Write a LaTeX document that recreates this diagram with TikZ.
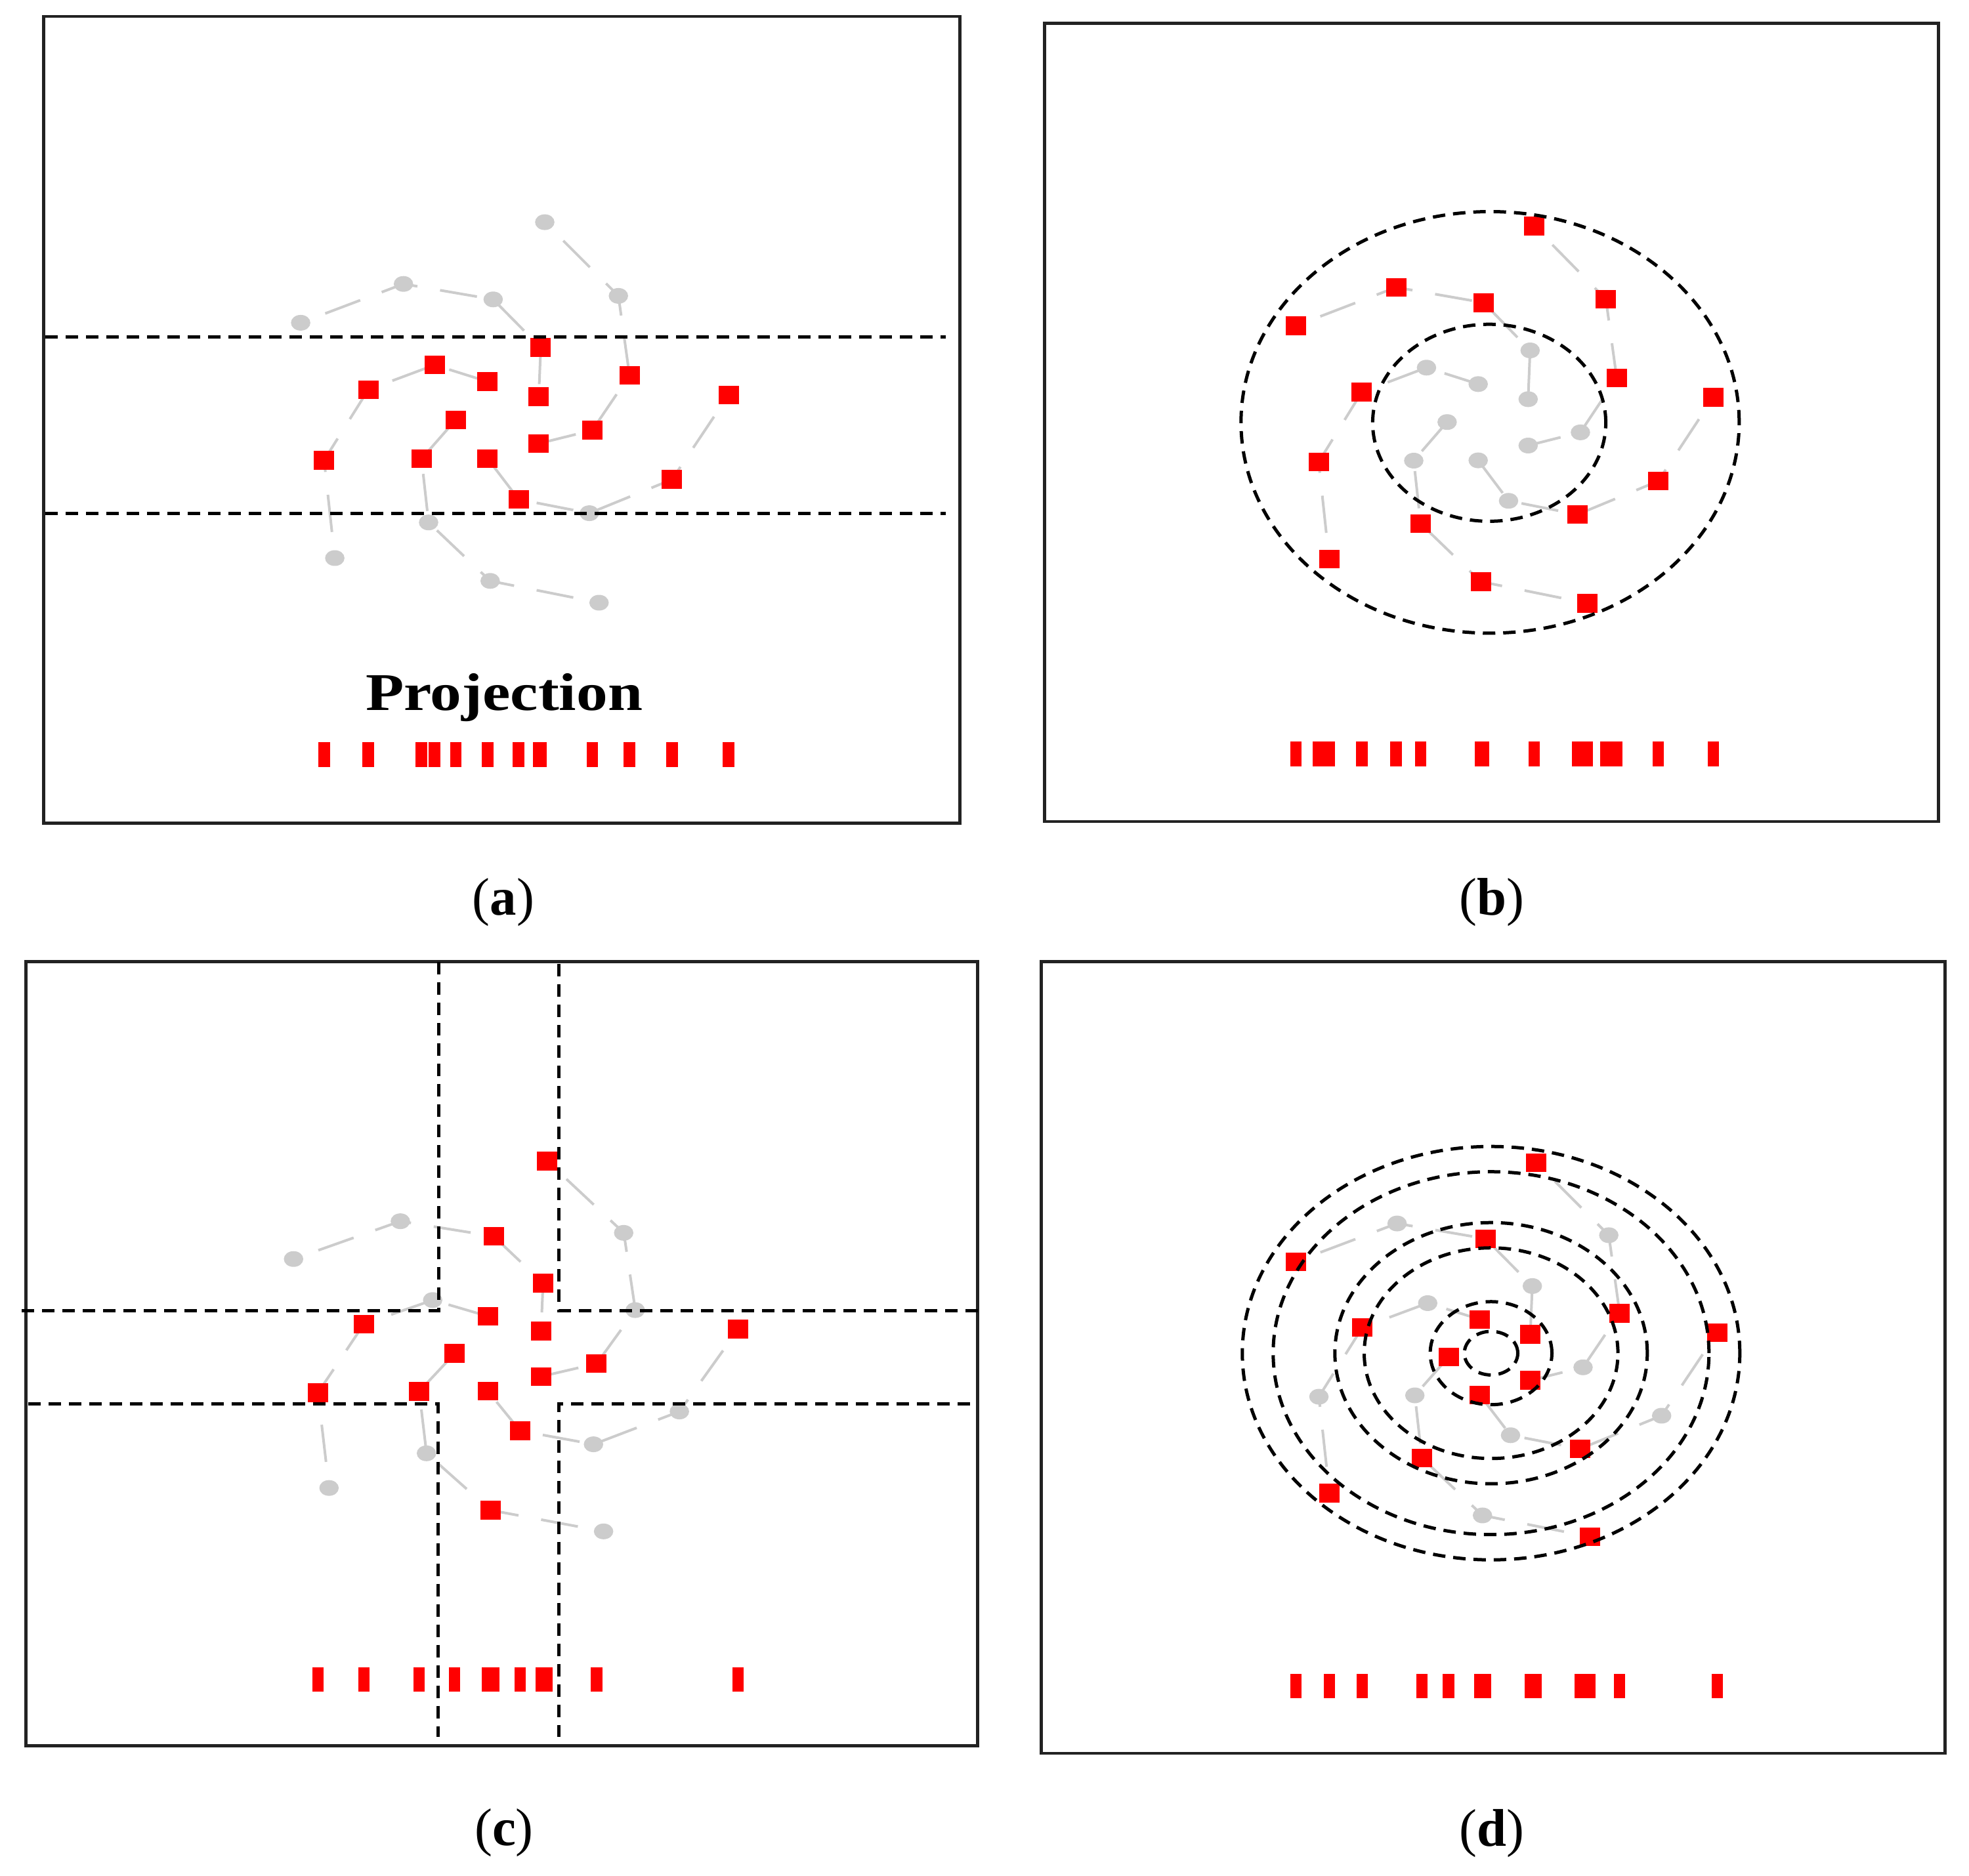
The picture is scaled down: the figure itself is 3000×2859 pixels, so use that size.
\documentclass[tikz,border=0pt]{standalone}
\usepackage{fontspec}
\setmainfont{Liberation Serif}
\usepackage{graphicx}
\usetikzlibrary{shapes.geometric}
\pgfdeclarelayer{bg}
\pgfsetlayers{bg,main}
\definecolor{gcol}{HTML}{CCCCCC}
\definecolor{fcol}{HTML}{222222}
\definecolor{rcol}{HTML}{FF0000}
\tikzset{
  gdot/.style={ellipse, fill=gcol, draw=none, inner sep=0pt, minimum width=2.96mm, minimum height=2.4mm},
  rsq/.style={rectangle, fill=rcol, draw=none, inner sep=0pt, minimum width=3.1mm, minimum height=2.85mm},
  mkgray/.style={p#1/.style=gdot},
  mkred/.style={p#1/.style=rsq},
  mkgray/.list={A1,A2,A3,A4,A5,A6,A7,A8,A9,A10,R1,R2,R3,R4,R5,R6,R7,R8,R9,R10,R11,R12,R13,R14,R15},
  bar/.style={rectangle, fill=rcol, draw=none, inner sep=0pt, minimum width=1.76mm, minimum height=3.8mm},
  arm/.style={draw=gcol, line width=0.4mm, dash pattern=on 5.7mm off 3.5mm, dash phase=5.2mm},
  bound/.style={draw=black, line width=0.5mm, dash pattern=on 1.9mm off 1.2mm},
  frame/.style={draw=fcol, line width=0.47mm},
  lab/.style={font=\fontsize{23}{27}\selectfont, inner sep=0pt},
}
\newcommand\placepts[1]{%
  \node[pA1] (#1A1) at (830.0,338.6) {};
  \node[pA2] (#1A2) at (614.7,432.7) {};
  \node[pA3] (#1A3) at (751.4,456.3) {};
  \node[pA4] (#1A4) at (458.1,491.9) {};
  \node[pA5] (#1A5) at (942.2,450.9) {};
  \node[pA6] (#1A6) at (653.0,796.2) {};
  \node[pA7] (#1A7) at (510.1,850.5) {};
  \node[pA8] (#1A8) at (746.8,885.3) {};
  \node[pA9] (#1A9) at (912.7,918.5) {};
  \node[pA10] (#1A10) at (897.9,782.1) {};
  \node[pR1] (#1R1) at (823.9,529.7) {};
  \node[pR2] (#1R2) at (662.1,556.2) {};
  \node[pR3] (#1R3) at (742.8,581.5) {};
  \node[pR4] (#1R4) at (561.1,593.9) {};
  \node[pR5] (#1R5) at (820.8,604.7) {};
  \node[pR6] (#1R6) at (959.1,571.9) {};
  \node[pR7] (#1R7) at (1110.1,601.8) {};
  \node[pR8] (#1R8) at (694.3,639.9) {};
  \node[pR9] (#1R9) at (902.4,655.7) {};
  \node[pR10] (#1R10) at (820.8,676.0) {};
  \node[pR11] (#1R11) at (493.8,701.3) {};
  \node[pR12] (#1R12) at (642.2,699.2) {};
  \node[pR13] (#1R13) at (742.8,698.8) {};
  \node[pR14] (#1R14) at (1023.9,730.7) {};
  \node[pR15] (#1R15) at (790.2,761.0) {};
  \begin{pgfonlayer}{bg}
    \draw[arm] (#1A4.center) -- (#1A2.center) -- (#1A3.center) -- (#1R1.center) -- (#1R5.center);
    \draw[arm] (#1A1.center) -- (#1A5.center) -- (#1R6.center) -- (#1R9.center) -- (#1R10.center);
    \draw[arm] (#1R7.center) -- (#1R14.center) -- (#1A10.center) -- (#1R15.center) -- (#1R13.center);
    \draw[arm] (#1A9.center) -- (#1A8.center) -- (#1A6.center) -- (#1R12.center) -- (#1R8.center);
    \draw[arm] (#1A7.center) -- (#1R11.center) -- (#1R4.center) -- (#1R2.center) -- (#1R3.center);
  \end{pgfonlayer}%
}
\newcommand\placebars[2]{%
  \foreach \p in {#2}{\node[bar] (#1bar\p) at (#1\p |- #1bary) {};}%
}
\begin{document}
\begin{tikzpicture}[x=0.1mm, y=-0.1mm]
\useasboundingbox (0,0) rectangle (3000,2859);
% frames
\draw[frame] (66.7,25) rectangle (1462.3,1254.7);
\draw[frame] (1591.3,35.6) rectangle (2953.7,1252);
\draw[frame] (39.5,1465.4) rectangle (1489.5,2660.2);
\draw[frame] (1586.6,1465.6) rectangle (2963.5,2671.9);
\coordinate (abary) at (0,1150);
\coordinate (bbary) at (0,1149);
\coordinate (cbary) at (0,2559.4);
\coordinate (dbary) at (0,2569.2);
% panel (a)
\begin{scope}[mkred/.list={R1,R2,R3,R4,R5,R6,R7,R8,R9,R10,R11,R12,R13,R14,R15}]
  \placepts{a}
\end{scope}
\placebars{a}{R1,R2,R3,R4,R5,R6,R7,R8,R9,R10,R11,R12,R13,R14,R15}
\draw[bound] (69,513.3) -- (1441,513.3);
\draw[bound] (69,783) -- (1441,783);
\node[lab, font=\fontsize{23}{27}\selectfont\bfseries, anchor=base] (proj) at (768,1082.7) {\scalebox{1.18}[1]{Projection}};
% panel (b)
\begin{scope}[shift={(1527.2,9.1)}, xscale=0.976, yscale=0.991,
  mkred/.list={A1,A2,A3,A4,A5,A6,A7,A8,A9,A10,R4,R6,R7,R11,R14}]
  \placepts{b}
\end{scope}
\placebars{b}{A1,A2,A3,A4,A5,A6,A7,A8,A9,A10,R4,R6,R7,R11,R14}
\draw[bound] (2270.3,643.7) ellipse [x radius=37.95mm, y radius=32.12mm];
\draw[bound] (2269,644.3) ellipse [x radius=17.76mm, y radius=15.01mm];
% panel (c)
\begin{scope}[shift={(-28.7,1440.1)}, xscale=1.039, yscale=0.973,
  mkred/.list={A1,A3,A8,R1,R3,R4,R5,R7,R8,R9,R10,R11,R12,R13,R15}]
  \placepts{c}
\end{scope}
\tikzset{bar/.append style={minimum height=3.67mm, minimum width=1.72mm}}
\placebars{c}{A1,A3,A8,R1,R3,R4,R5,R7,R8,R9,R10,R11,R12,R13,R15}
\draw[bound] (33.3,1997.2) -- (668,1997.2) -- (668,1465.4);
\draw[bound] (1489.5,1997.2) -- (851.8,1997.2) -- (851.8,1465.4);
\draw[bound] (43,2139) -- (667.5,2139) -- (667.5,2647.4);
\draw[bound] (1477.5,2139) -- (851,2139) -- (851,2647.4);
% panel (d)
\begin{scope}[shift={(1523.1,1439.2)}, xscale=0.985, yscale=0.983,
  mkred/.list={A1,A3,A4,A6,A7,A9,A10,R3,R4,R5,R6,R7,R8,R10,R13}]
  \placepts{d}
\end{scope}
\placebars{d}{A1,A3,A4,A6,A7,A9,A10,R3,R4,R5,R6,R7,R8,R10,R13}
\foreach \rx/\ry in {4.07/3.32, 9.27/7.85, 19.33/16.05, 23.8/19.9, 33.2/27.65, 37.9/31.5}{
  \draw[bound] (2271.8,2062.2) ellipse [x radius=\rx mm, y radius=\ry mm];
}
% labels
\node[lab] (la) at (767,1375) {(\textbf{a})};
\node[lab] (lb) at (2273,1375) {(\textbf{b})};
\node[lab] (lc) at (768,2793) {(\textbf{c})};
\node[lab] (ld) at (2273,2794) {(\textbf{d})};
\end{tikzpicture}
\end{document}
